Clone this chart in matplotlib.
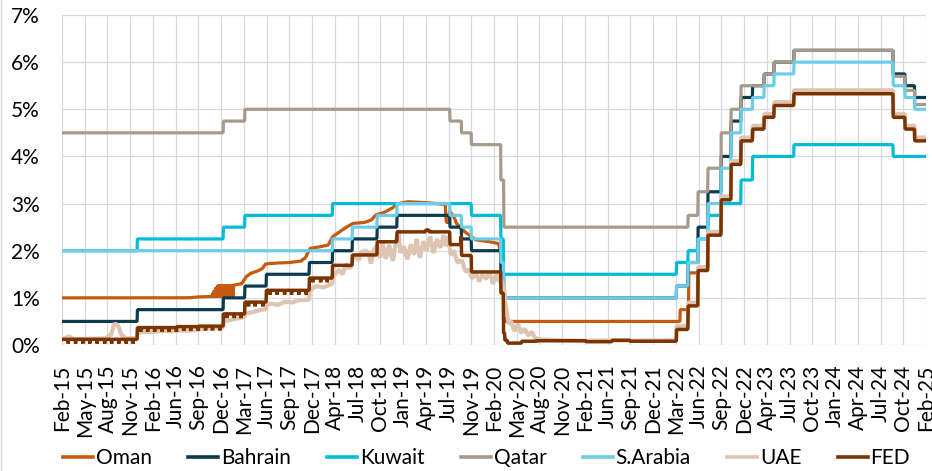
import numpy as np
import pandas as pd
import matplotlib
matplotlib.use("Agg")
import matplotlib.pyplot as plt
from matplotlib.lines import Line2D
from matplotlib.ticker import FuncFormatter

plt.rcParams['font.family'] = ['Lato', 'DejaVu Sans']

START, END = '2015-02-02', '2025-02-05'

tick_labels = ['Feb-15', 'May-15', 'Aug-15', 'Nov-15', 'Feb-16', 'Jun-16', 'Sep-16', 'Dec-16',
               'Mar-17', 'Jun-17', 'Sep-17', 'Dec-17', 'Apr-18', 'Jul-18', 'Oct-18', 'Jan-19',
               'Apr-19', 'Jul-19', 'Nov-19', 'Feb-20', 'May-20', 'Aug-20', 'Nov-20', 'Feb-21',
               'Jun-21', 'Sep-21', 'Dec-21', 'Mar-22', 'Jun-22', 'Sep-22', 'Dec-22', 'Apr-23',
               'Jul-23', 'Oct-23', 'Jan-24', 'Apr-24', 'Jul-24', 'Oct-24', 'Feb-25']

# ---- Oman: market rate until early 2020, policy rate afterwards ----
oman_line_dates = ['2015-02-02', '2016-07-15', '2016-09-01', '2016-10-29',
                   '2016-11-01', '2016-11-03', '2016-11-07', '2016-11-09', '2016-11-14',
                   '2016-11-16', '2016-11-21', '2016-11-23', '2016-11-28', '2016-11-30',
                   '2016-12-05', '2016-12-07', '2016-12-12', '2016-12-14', '2016-12-19',
                   '2016-12-21', '2016-12-26', '2016-12-28', '2017-01-02', '2017-01-04',
                   '2017-01-09', '2017-01-11', '2017-01-16', '2017-01-18', '2017-01-23',
                   '2017-01-25', '2017-01-27',
                   '2017-03-03', '2017-03-22', '2017-04-10', '2017-05-09', '2017-05-29',
                   '2017-06-12', '2017-08-04', '2017-09-21', '2017-11-08', '2017-11-27',
                   '2017-12-17', '2018-01-24', '2018-03-04', '2018-03-23', '2018-04-21',
                   '2018-05-20', '2018-06-17', '2018-08-04', '2018-09-02', '2018-09-22',
                   '2018-10-30', '2018-11-28', '2018-12-27', '2019-02-03', '2019-04-21',
                   '2019-06-08', '2019-07-12', '2019-07-17', '2019-07-26', '2019-07-31',
                   '2019-08-15', '2019-08-29', '2019-09-22', '2019-10-11', '2019-11-19',
                   '2020-01-16', '2020-02-23', '2020-03-08', '2020-03-20']
oman_line_rates = [1.00, 1.00, 1.02, 1.03,
                   1.10, 1.00, 1.16, 1.00, 1.22,
                   1.00, 1.27, 1.00, 1.29, 1.00,
                   1.29, 1.01, 1.29, 1.01, 1.29,
                   1.01, 1.29, 1.01, 1.29, 1.02,
                   1.29, 1.02, 1.29, 1.02, 1.29,
                   1.02, 1.27,
                   1.30, 1.45, 1.52, 1.57, 1.62,
                   1.72, 1.74, 1.75, 1.78, 1.85,
                   2.05, 2.08, 2.12, 2.30, 2.40,
                   2.50, 2.58, 2.60, 2.65, 2.76,
                   2.82, 2.90, 3.00, 3.04, 3.02,
                   3.00, 2.98, 2.60, 2.60, 2.83,
                   2.75, 2.58, 2.45, 2.37, 2.23,
                   2.19, 2.15, 1.80, 0.60]
oman_step_dates = ['2020-03-23', '2022-04-01', '2022-05-09', '2022-06-16', '2022-07-28',
                   '2022-09-22', '2022-11-03', '2022-12-15', '2023-02-02', '2023-03-23',
                   '2023-05-04', '2023-07-27', '2024-09-19', '2024-11-08', '2024-12-19']
oman_step_rates = [0.50, 0.75, 1.53, 1.65, 2.40, 3.15, 3.90, 4.40, 4.65, 4.90,
                   5.15, 5.40, 4.90, 4.65, 4.40]

# ---- Bahrain ----
bahrain_dates = ['2015-02-02', '2015-12-17', '2016-12-15', '2017-03-16', '2017-06-15',
                 '2017-12-14', '2018-03-22', '2018-06-14', '2018-09-27', '2018-12-20',
                 '2019-08-01', '2019-09-19', '2019-10-31', '2020-03-04', '2020-03-17',
                 '2022-03-17', '2022-05-05', '2022-06-16', '2022-07-28', '2022-09-22',
                 '2022-11-03', '2022-12-15', '2023-02-02', '2023-03-23', '2023-05-04',
                 '2023-07-27', '2024-09-19', '2024-11-08', '2024-12-19']
bahrain_rates = [0.50, 0.75, 1.00, 1.25, 1.50, 1.75, 2.00, 2.25, 2.50, 2.75,
                 2.50, 2.25, 2.00, 1.50, 1.00, 1.25, 1.75, 2.50, 3.25, 4.00,
                 4.75, 5.25, 5.50, 5.75, 6.00, 6.25, 5.75, 5.50, 5.25]

# ---- Kuwait ----
kuwait_dates = ['2015-02-02', '2015-12-17', '2016-12-15', '2017-03-16', '2018-03-22',
                '2019-10-31', '2020-03-04', '2020-03-16', '2022-03-17', '2022-05-05',
                '2022-06-16', '2022-07-28', '2022-09-22', '2022-12-15', '2023-02-02',
                '2023-07-27', '2024-09-19']
kuwait_rates = [2.00, 2.25, 2.50, 2.75, 3.00, 2.75, 2.25, 1.50, 1.75, 2.00,
                2.25, 2.75, 3.00, 3.50, 4.00, 4.25, 4.00]

# ---- Qatar ----
qatar_dates = ['2015-02-02', '2016-12-15', '2017-03-16', '2019-08-01', '2019-09-19',
               '2019-10-31', '2020-03-04', '2020-03-17', '2022-05-05', '2022-06-16',
               '2022-07-28', '2022-09-22', '2022-11-03', '2022-12-15', '2023-03-23',
               '2023-05-04', '2023-07-27', '2024-09-19', '2024-11-08', '2024-12-19']
qatar_rates = [4.50, 4.75, 5.00, 4.75, 4.50, 4.25, 3.50, 2.50, 2.75, 3.25,
               3.75, 4.50, 5.00, 5.50, 5.75, 6.00, 6.25, 5.70, 5.40, 5.10]

# ---- Saudi Arabia ----
sarabia_dates = ['2015-02-02', '2018-03-22', '2018-06-14', '2018-09-27', '2018-12-20',
                 '2019-08-01', '2019-09-19', '2019-10-31', '2020-03-04', '2020-03-16',
                 '2022-03-17', '2022-05-05', '2022-06-16', '2022-07-28', '2022-09-22',
                 '2022-11-03', '2022-12-15', '2023-02-02', '2023-03-23', '2023-05-04',
                 '2023-07-27', '2024-09-19', '2024-11-08', '2024-12-19']
sarabia_rates = [2.00, 2.25, 2.50, 2.75, 3.00, 2.75, 2.50, 2.25, 1.75, 1.00,
                 1.25, 1.75, 2.25, 3.00, 3.75, 4.50, 5.00, 5.25, 5.50, 5.75,
                 6.00, 5.50, 5.25, 5.00]

# ---- UAE: interbank rate until early 2022, base rate afterwards ----
uae_line_dates = ['2015-02-02', '2015-03-03', '2015-03-22', '2015-05-09', '2015-08-04',
                  '2015-08-28', '2015-09-11', '2015-09-26', '2015-10-10', '2015-10-29',
                  '2015-12-07', '2015-12-16', '2015-12-18', '2016-01-14', '2016-02-22',
                  '2016-03-31', '2016-05-09', '2016-06-16', '2016-07-25', '2016-09-01',
                  '2016-10-10', '2016-11-17', '2016-12-14', '2016-12-16', '2017-01-04',
                  '2017-02-02', '2017-03-03', '2017-03-15', '2017-03-17', '2017-04-20',
                  '2017-05-19', '2017-06-14', '2017-06-16', '2017-07-06', '2017-08-04',
                  '2017-09-02', '2017-10-01', '2017-10-29', '2017-12-13', '2017-12-15',
                  '2017-12-26', '2018-01-14', '2018-02-12', '2018-03-21', '2018-03-23',
                  '2018-04-05', '2018-04-20', '2018-05-04', '2018-05-19', '2018-06-02',
                  '2018-06-12', '2018-06-15', '2018-06-26', '2018-07-10', '2018-07-25',
                  '2018-08-08', '2018-08-23', '2018-09-01', '2018-09-11', '2018-09-25',
                  '2018-10-10', '2018-10-19', '2018-11-03', '2018-11-17', '2018-12-02',
                  '2018-12-16', '2018-12-26', '2019-01-04', '2019-01-19', '2019-02-02',
                  '2019-02-17', '2019-03-03', '2019-03-13', '2019-03-27', '2019-04-11',
                  '2019-04-25', '2019-05-09', '2019-05-24', '2019-06-07', '2019-06-22',
                  '2019-07-06', '2019-07-16', '2019-07-25', '2019-08-04', '2019-08-18',
                  '2019-09-02', '2019-09-21', '2019-10-06', '2019-10-20', '2019-11-03',
                  '2019-11-18', '2019-12-02', '2019-12-17', '2020-01-01', '2020-01-16',
                  '2020-01-30', '2020-02-13', '2020-02-23', '2020-03-04', '2020-03-18',
                  '2020-03-28', '2020-04-06', '2020-04-16', '2020-04-30', '2020-05-15',
                  '2020-05-29', '2020-06-13', '2020-06-27', '2020-07-12', '2020-07-26',
                  '2020-08-14', '2020-11-18', '2021-02-23', '2021-05-30', '2021-09-03',
                  '2021-12-08', '2022-03-16']
uae_line_rates = [0.12, 0.18, 0.12, 0.13, 0.14,
                  0.22, 0.46, 0.42, 0.22, 0.14,
                  0.15, 0.15, 0.26, 0.28, 0.27,
                  0.30, 0.29, 0.31, 0.30, 0.33,
                  0.35, 0.36, 0.37, 0.50, 0.52,
                  0.55, 0.58, 0.60, 0.66, 0.70,
                  0.74, 0.76, 0.86, 0.88, 0.85,
                  0.92, 0.90, 0.95, 0.96, 1.15,
                  1.20, 1.25, 1.22, 1.30, 1.45,
                  1.52, 1.60, 1.50, 1.72, 1.62,
                  1.70, 1.85, 1.90, 1.80, 1.98,
                  2.00, 1.95, 1.70, 2.00, 2.10,
                  1.85, 2.20, 1.80, 2.15, 1.75,
                  2.20, 2.44, 1.95, 2.10, 1.80,
                  2.15, 1.90, 2.25, 1.85, 2.20,
                  2.00, 2.30, 1.95, 2.25, 2.05,
                  2.35, 2.10, 2.30, 1.90, 2.00,
                  1.75, 1.80, 1.55, 1.60, 1.40,
                  1.55, 1.35, 1.50, 1.40, 1.55,
                  1.30, 1.50, 1.35, 1.40, 1.15,
                  0.70, 0.45, 0.50, 0.30, 0.45,
                  0.25, 0.35, 0.20, 0.28, 0.15,
                  0.12, 0.10, 0.09, 0.10, 0.09,
                  0.10, 0.10]
uae_step_dates = ['2022-03-17', '2022-05-05', '2022-06-16', '2022-07-28', '2022-09-22',
                  '2022-11-03', '2022-12-15', '2023-02-02', '2023-03-23', '2023-05-04',
                  '2023-07-27', '2024-09-19', '2024-11-08', '2024-12-19']
uae_step_rates = [0.40, 0.90, 1.65, 2.40, 3.15, 3.90, 4.40, 4.65, 4.90, 5.15,
                  5.40, 4.90, 4.65, 4.40]

# ---- Fed effective rate ----
fed_dates = ['2015-02-02', '2015-12-17', '2016-06-01', '2016-09-01', '2016-12-15',
             '2017-03-16', '2017-06-15', '2017-12-14', '2018-03-22', '2018-06-14',
             '2018-09-27', '2018-12-20', '2019-04-20', '2019-05-06', '2019-08-01',
             '2019-09-17', '2019-09-19', '2019-10-31', '2020-03-04', '2020-03-16',
             '2020-03-20', '2020-04-01', '2020-06-01', '2020-08-01', '2021-03-01',
             '2021-06-17', '2021-09-01', '2022-03-17', '2022-05-05', '2022-06-16',
             '2022-07-28', '2022-09-22', '2022-11-03', '2022-12-15', '2023-02-02',
             '2023-03-23', '2023-05-04', '2023-07-27', '2024-09-19', '2024-11-08',
             '2024-12-19']
fed_rates = [0.12, 0.37, 0.39, 0.40, 0.66, 0.91, 1.16, 1.42, 1.69, 1.91,
             2.19, 2.40, 2.44, 2.40, 2.13, 2.30, 1.90, 1.55, 1.10, 0.25,
             0.10, 0.04, 0.08, 0.09, 0.07, 0.10, 0.08, 0.33, 0.83, 1.58,
             2.33, 3.08, 3.83, 4.33, 4.58, 4.83, 5.08, 5.33, 4.83, 4.58,
             4.33]
# month-end dips in the effective rate (last business day of each month)
fed_dip_until = '2018-02-28'
fed_dip_size = 0.09

# ---------------------------------------------------------------------------
days = pd.bdate_range(START, END)
n = len(days)
day_num = days.values.astype('datetime64[D]').astype(np.int64)
x = np.arange(n)


def as_num(dates):
    return pd.to_datetime(dates).values.astype('datetime64[D]').astype(np.int64)


def stepwise(dates, rates):
    d = as_num(dates)
    r = np.asarray(rates, float)
    idx = np.searchsorted(d, day_num, side='right') - 1
    return np.where(idx >= 0, r[np.clip(idx, 0, None)], np.nan)


def linear(dates, rates):
    d = as_num(dates)
    out = np.interp(day_num, d, np.asarray(rates, float))
    out[(day_num < d[0]) | (day_num > d[-1])] = np.nan
    return out


def joined(line_dates, line_rates, step_dates, step_rates):
    a = linear(line_dates, line_rates)
    b = stepwise(step_dates, step_rates)
    return np.where(day_num < as_num(step_dates)[0], a, b)


fed = stepwise(fed_dates, fed_rates)
s = days.to_series()
month_last = s.groupby(days.to_period('M')).transform('max').values == s.values
fed[month_last & (days <= pd.Timestamp(fed_dip_until))] -= fed_dip_size

series = [
    ('Oman', joined(oman_line_dates, oman_line_rates, oman_step_dates, oman_step_rates), '#C55A11', 2.3),
    ('Bahrain', stepwise(bahrain_dates, bahrain_rates), '#0D3B4C', 2.3),
    ('Kuwait', stepwise(kuwait_dates, kuwait_rates), '#00BCD6', 2.3),
    ('Qatar', stepwise(qatar_dates, qatar_rates), '#A69A8B', 2.3),
    ('S.Arabia', stepwise(sarabia_dates, sarabia_rates), '#6CCDEA', 2.3),
    ('UAE', joined(uae_line_dates, uae_line_rates, uae_step_dates, uae_step_rates), '#DEC5B3', 3.0),
    ('FED', fed, '#7B3300', 2.5),
]

fig = plt.figure(figsize=(9.32, 4.71), dpi=100)
ax = fig.add_axes([62 / 932, 1 - 345 / 471, 864 / 932, 330 / 471])

for name, y, color, lw in series:
    ax.plot(x, y, color=color, lw=lw, label=name, solid_capstyle='butt',
            solid_joinstyle='bevel')

ax.set_xlim(0, n - 1)
ax.set_ylim(0, 7)
ax.set_yticks(range(0, 8))
ax.yaxis.set_major_formatter(FuncFormatter(lambda v, p: f'{v:.0f}%'))
ax.set_xticks(np.linspace(0, n - 1, len(tick_labels)))
ax.set_xticklabels(tick_labels, rotation=90, va='top', ha='center')
ax.tick_params(axis='both', length=0, labelsize=15, colors='black')
ax.tick_params(axis='y', pad=16)
ax.tick_params(axis='x', pad=14)
ax.grid(True, color='#D9D9D9', lw=0.9)
ax.set_axisbelow(True)
for sp in ax.spines.values():
    sp.set_visible(False)

handles = [Line2D([0], [0], color=c, lw=2.6) for _, _, c, _ in series]
labels = [nme for nme, _, _, _ in series]
fig.legend(handles, labels, loc='center', bbox_to_anchor=(0.522, 0.028), ncol=7,
           frameon=False, fontsize=15, handlelength=1.45, handletextpad=0.12,
           columnspacing=1.75)

fig.add_artist(Line2D([0.0015, 0.0015], [0, 1], color='#D9D9D9', lw=1.0,
                      transform=fig.transFigure))

fig.savefig('out.png', dpi=100)
